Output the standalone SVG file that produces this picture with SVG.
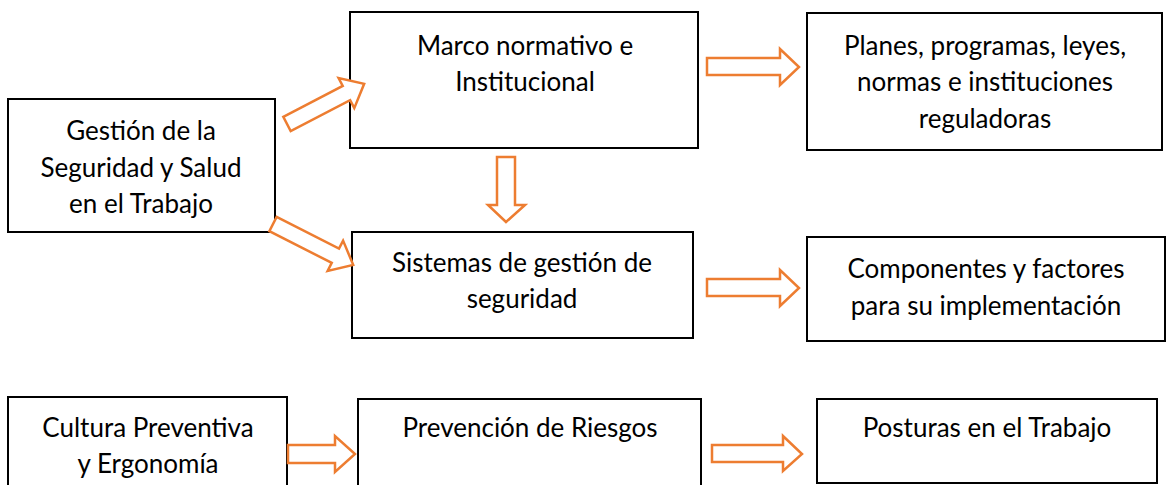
<svg xmlns="http://www.w3.org/2000/svg" width="1170" height="485" viewBox="0 0 1170 485">
<style>
.box{fill:#fff;stroke:#000;stroke-width:2}
.t{font-family:Lato,"Liberation Sans",sans-serif;font-size:26px;fill:#000;text-anchor:middle}
.arr{fill:#fff;stroke:#ED7D31;stroke-width:2.5;stroke-linejoin:miter}
</style>
<rect width="1170" height="485" fill="#fff"/>
<g id="n1"><rect class="box" x="8" y="99" width="267" height="133"/>
<text class="t" x="141" y="140">Gestión de la</text><text class="t" x="141" y="177">Seguridad y Salud</text><text class="t" x="141" y="213">en el Trabajo</text></g>
<g id="n2"><rect class="box" x="350" y="12" width="348" height="136"/>
<text class="t" x="525" y="55">Marco normativo e</text><text class="t" x="525" y="91">Institucional</text></g>
<g id="n3"><rect class="box" x="807" y="13" width="355" height="137"/>
<text class="t" x="985" y="55">Planes, programas, leyes,</text><text class="t" x="985" y="91">normas e instituciones</text><text class="t" x="985" y="128">reguladoras</text></g>
<g id="n4"><rect class="box" x="352" y="232" width="341" height="106"/>
<text class="t" x="522" y="272">Sistemas de gestión de</text><text class="t" x="522" y="308">seguridad</text></g>
<g id="n5"><rect class="box" x="807" y="237" width="358" height="104"/>
<text class="t" x="986" y="278">Componentes y factores</text><text class="t" x="986" y="315">para su implementación</text></g>
<g id="n6"><rect class="box" x="8" y="397" width="279" height="100"/>
<text class="t" x="148" y="437">Cultura Preventiva</text><text class="t" x="148" y="473">y Ergonomía</text></g>
<g id="n7"><rect class="box" x="358" y="399" width="343" height="100"/>
<text class="t" x="530" y="437">Prevención de Riesgos</text></g>
<g id="n8"><rect class="box" x="817" y="399" width="340" height="84"/>
<text class="t" x="987" y="437">Posturas en el Trabajo</text></g>
<g id="connectors">
<path class="arr" d="M0,-8 L67,-8 L67,-17 L87,0 L67,17 L67,8 L0,8 Z" transform="translate(287,124) rotate(-27.5)"/>
<path class="arr" d="M0,-8 L70,-8 L70,-17 L90,0 L70,17 L70,8 L0,8 Z" transform="translate(273,224) rotate(27)"/>
<path class="arr" d="M497,157 L515,157 L515,205 L525,205 L506,222 L488,205 L497,205 Z"/>
<path class="arr" d="M707,58 L780,58 L780,49 L799,67 L780,85 L780,75 L707,75 Z"/>
<path class="arr" d="M707,279 L780,279 L780,270 L799,288 L780,306 L780,296 L707,296 Z"/>
<path class="arr" d="M288,445 L335,445 L335,436 L355,454 L335,472 L335,463 L288,463 Z"/>
<path class="arr" d="M712,445 L783,445 L783,436 L802,454 L783,471 L783,462 L712,462 Z"/>
</g>
</svg>
